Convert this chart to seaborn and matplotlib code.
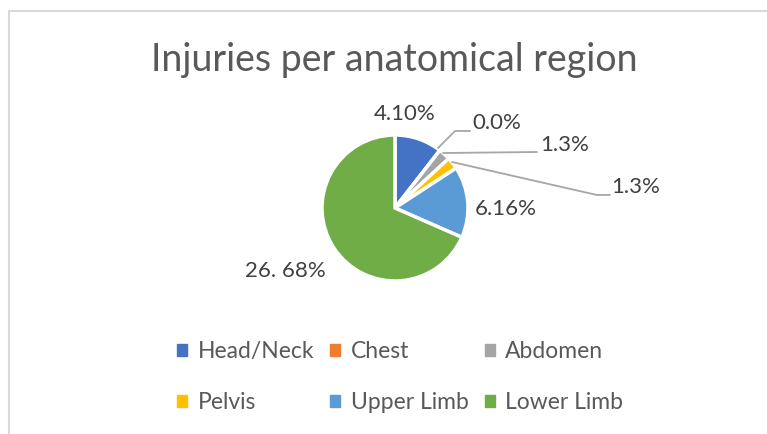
"""Pie chart: injuries per anatomical region."""
import matplotlib
matplotlib.use('Agg')
import matplotlib.pyplot as plt
import matplotlib.patches as mpatches
import seaborn as sns

REGIONS = ["Head/Neck", "Chest", "Abdomen", "Pelvis", "Upper Limb", "Lower Limb"]
COUNTS = [4, 0, 1, 1, 6, 26]
LABELS = ["4.10%", "0.0%", "1.3%", "1.3%", "6.16%", "26. 68%"]
COLORS = ["#4472C4", "#ED7D31", "#A5A5A5", "#FFC000", "#5B9BD5", "#70AD47"]

sns.set_theme(style="white")
plt.rcParams['font.family'] = ['Lato', 'DejaVu Sans']

W, H = 767, 434
CX, CY, R = 395, 208, 73  # pie centre / radius in pixels


def px(x, y):
    """pixel (from top-left) -> data coords where pie radius == 1"""
    return (x - CX) / R, (CY - y) / R


fig = plt.figure(figsize=(W / 100, H / 100), dpi=100)
ax = fig.add_axes([0, 0, 1, 1])

ax.pie(COUNTS, colors=COLORS, startangle=90, counterclock=False, radius=1,
       wedgeprops=dict(edgecolor="white", linewidth=2.5))
# pie() resets the limits, so set them afterwards
ax.set_xlim(-CX / R, (W - CX) / R)
ax.set_ylim(-(H - CY) / R, CY / R)
ax.set_aspect("equal")
ax.axis("off")

# data labels, Excel style
lab_col = "#404040"
line_col = "#A6A6A6"
fs = 16
ax.text(*px(405, 114), LABELS[0], ha="center", va="center", fontsize=fs, color=lab_col)
ax.text(*px(472, 123), LABELS[1], ha="left", va="center", fontsize=fs, color=lab_col)
ax.text(*px(540, 145), LABELS[2], ha="left", va="center", fontsize=fs, color=lab_col)
ax.text(*px(611, 187), LABELS[3], ha="left", va="center", fontsize=fs, color=lab_col)
ax.text(*px(506, 209), LABELS[4], ha="center", va="center", fontsize=fs, color=lab_col)
ax.text(*px(285, 271), LABELS[5], ha="center", va="center", fontsize=fs, color=lab_col)

# leader lines
for pts in [[(438, 148), (455, 131), (470, 131)],
            [(443, 153), (537, 152)],
            [(452, 162), (597, 195), (610, 195)]]:
    xs, ys = zip(*[px(*p) for p in pts])
    ax.plot(xs, ys, color=line_col, linewidth=1.3)

fig.text(394 / W, 1 - 60 / H, "Injuries per anatomical region", ha="center", va="center",
         fontsize=27, color="#595959")

# legend, row-wise order
order = [0, 3, 1, 4, 2, 5]
handles = [mpatches.Patch(color=COLORS[i], label=REGIONS[i]) for i in order]
fig.legend(handles=handles, ncol=3, loc="center", bbox_to_anchor=(400 / W, 1 - 377 / H),
           frameon=False, fontsize=16.5, labelcolor="#595959", handlelength=0.45,
           handleheight=0.45, handletextpad=0.45, columnspacing=0.7, labelspacing=1.3)

# chart border
fig.add_artist(mpatches.Rectangle((9 / W, -0.1), 1.1, 1 - 11 / H + 0.1, transform=fig.transFigure,
                                  fill=False, edgecolor="#D9D9D9", linewidth=1.5))

plt.savefig("out.png", dpi=100)
plt.close()
